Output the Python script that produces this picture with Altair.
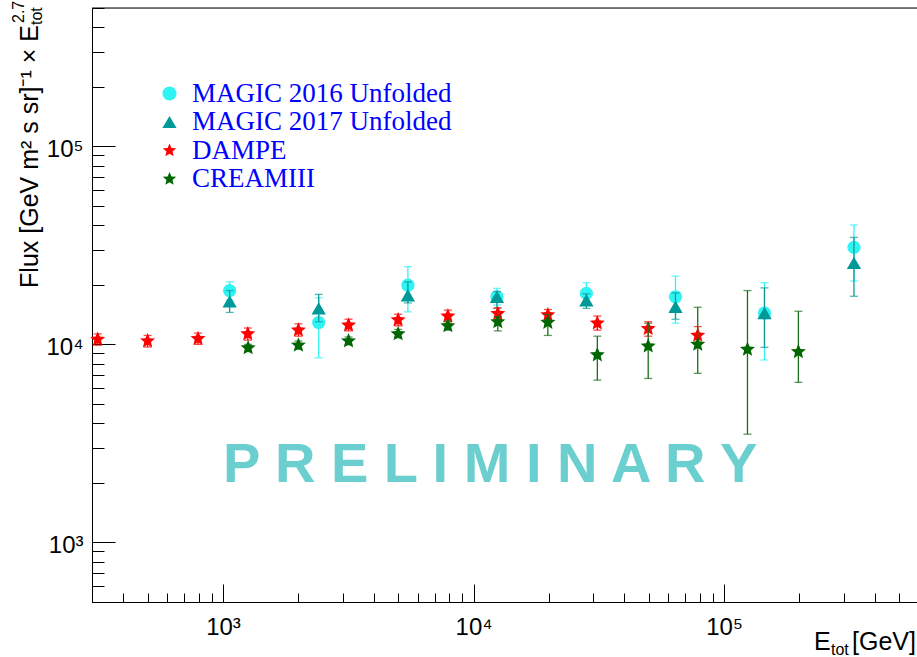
import altair as alt
import pandas as pd

# ---------------- data ----------------
NAMES = ["MAGIC 2016 Unfolded", "MAGIC 2017 Unfolded", "DAMPE", "CREAMIII"]

m16_e = [1063, 2410, 5470, 12400, 28200, 64000, 145000, 330000]
m16_f = [18700, 12900, 19900, 17400, 18100, 17400, 14400, 30900]
m16_hi = [20700, 17200, 24700, 19200, 20500, 22100, 20500, 40100]
m16_lo = [16700, 8550, 14600, 15800, 16000, 12800, 8340, 20900]

m17_e = [1063, 2410, 5470, 12400, 28200, 64000, 145000, 330000]
m17_f = [16500, 15200, 17700, 17400, 16700, 15500, 14400, 25800]
m17_hi = [18700, 17900, 20700, 18500, 18000, 18200, 19300, 34700]
m17_lo = [14500, 13000, 16200, 15200, 15200, 13400, 9660, 17500]

dampe_e = [316, 500, 795, 1256, 2000, 3170, 5000, 7900, 12500, 19800, 31200, 49800, 78500]
dampe_f = [10600, 10400, 10700, 11300, 11800, 12500, 13300, 13900, 14300, 14100, 12800, 12000, 11100]
dampe_hi = [11300, 11100, 11400, 12100, 12700, 13400, 14200, 14900, 15300, 15000, 13900, 13000, 12300]
dampe_lo = [9900, 9700, 10000, 10500, 11000, 11700, 12400, 13000, 13400, 13200, 11800, 11000, 10000]

cream_e = [1260, 2000, 3170, 5000, 7900, 12500, 19800, 31200, 49800, 78500, 124000, 198000]
cream_f = [9600, 9900, 10400, 11300, 12400, 13000, 12900, 8840, 9800, 10000, 9440, 9180]
cream_hi = [10000, 10400, 10900, 11900, 13100, 13800, 14200, 11000, 12800, 15400, 18700, 14700]
cream_lo = [9200, 9450, 9950, 10800, 11800, 11700, 11100, 6600, 6730, 7140, 3520, 6430]

X_TICKS = [300, 400, 500, 600, 700, 800, 900,
           1000, 2000, 3000, 4000, 5000, 6000, 7000, 8000, 9000,
           10000, 20000, 30000, 40000, 50000, 60000, 70000, 80000, 90000,
           100000, 200000, 300000, 400000, 500000]
Y_TICKS = [500, 600, 700, 800, 900,
           1000, 2000, 3000, 4000, 5000, 6000, 7000, 8000, 9000,
           10000, 20000, 30000, 40000, 50000, 60000, 70000, 80000, 90000,
           100000, 200000, 300000, 400000, 500000]

# ---------------- styling ----------------
MARK_COLORS = ["#30f4f4", "#009999", "#ff0000", "#006600"]
ERR_COLORS = ["#30f4f4", "#109a9a", "#ff0000", "#1a6e1a"]
STAR = ("M0,-1L0.265,-0.364L0.951,-0.309L0.428,0.139L0.588,0.809L0,0.45"
        "L-0.588,0.809L-0.428,0.139L-0.951,-0.309L-0.265,-0.364Z")
SHAPES = ["circle", "triangle-up", STAR, STAR]
SIZES = [175, 205, 250, 250]

W, H = 825, 594
FONT = "Liberation Sans"

MAJOR = "abs(log(datum.value)/LN10 - round(log(datum.value)/LN10)) < 0.001"
SUP = ("datum.value == 1000 ? '10\u00b3' : datum.value == 10000 ? '10\u2074' : "
       "datum.value == 100000 ? '10\u2075' : ''")

xscale = alt.Scale(type="log", domain=[300, 589000], nice=False)
yscale = alt.Scale(type="log", domain=[500, 500000], nice=False)

xaxis = alt.Axis(values=X_TICKS, labelExpr=SUP, title=None, grid=False,
                 tickSize={"expr": f"{MAJOR} ? -18 : -9"},
                 labelPadding=31, labelFont=FONT, labelFontSize=24,
                 labelColor="black", domainColor="black", tickColor="black",
                 domainWidth=1, tickWidth=1, labelFlush=False,
                 labelOverlap=False, labelBound=False)
yaxis = alt.Axis(values=Y_TICKS, labelExpr=SUP, title=None, grid=False,
                 tickSize={"expr": f"{MAJOR} ? -23 : -12"},
                 labelPadding=32, labelFont=FONT, labelFontSize=24,
                 labelColor="black", domainColor="black", tickColor="black",
                 domainWidth=1, tickWidth=1, labelFlush=False,
                 labelOverlap=False, labelBound=False, labelOffset=3)

color_scale = alt.Scale(domain=NAMES, range=MARK_COLORS)
shape_scale = alt.Scale(domain=NAMES, range=SHAPES)

legend = alt.Legend(title=None, orient="none", legendX=64, legendY=72,
                    labelFont="Liberation Serif", labelFontSize=27,
                    labelColor="#0000ff", symbolSize=200, symbolStrokeWidth=0,
                    labelOffset=9, rowPadding=0.5, labelLimit=400)

series = [
    (m16_e, m16_f, m16_lo, m16_hi),
    (m17_e, m17_f, m17_lo, m17_hi),
    (dampe_e, dampe_f, dampe_lo, dampe_hi),
    (cream_e, cream_f, cream_lo, cream_hi),
]

layers = []
for i, (e, f, lo, hi) in enumerate(series):
    df = pd.DataFrame({"E": e, "F": f, "lo": lo, "hi": hi, "series": NAMES[i]})
    base = alt.Chart(df)
    x = alt.X("E:Q", scale=xscale, axis=xaxis)
    rule = base.mark_rule(color=ERR_COLORS[i], strokeWidth=1.3).encode(
        x=x, y=alt.Y("lo:Q", scale=yscale, axis=yaxis), y2="hi:Q")
    cap_lo = base.mark_tick(color=ERR_COLORS[i], orient="horizontal",
                            size=8, thickness=1.3).encode(
        x=x, y=alt.Y("lo:Q", scale=yscale, axis=yaxis))
    cap_hi = base.mark_tick(color=ERR_COLORS[i], orient="horizontal",
                            size=8, thickness=1.3).encode(
        x=x, y=alt.Y("hi:Q", scale=yscale, axis=yaxis))
    pts = base.mark_point(filled=True, opacity=1, size=SIZES[i]).encode(
        x=x, y=alt.Y("F:Q", scale=yscale, axis=yaxis),
        color=alt.Color("series:N", scale=color_scale, legend=legend),
        shape=alt.Shape("series:N", scale=shape_scale, legend=legend))
    layers += [rule, cap_lo, cap_hi, pts]

# watermark
prelim_e = [11650]
prelim_f = [2010]
prelim = alt.Chart(pd.DataFrame({"E": prelim_e, "F": prelim_f})).mark_text(
    text="P R E L I M I N A R Y", font=FONT, fontWeight="bold", fontSize=56,
    color="#6ccfcf", align="center", baseline="alphabetic").encode(
    x=alt.X("E:Q", scale=xscale, axis=xaxis),
    y=alt.Y("F:Q", scale=yscale, axis=yaxis))

one = alt.Data(values=[{}])
frame_top = alt.Chart(one).mark_rule(color="black", strokeWidth=1).encode(
    x=alt.value(0), x2=alt.value(W), y=alt.value(0))

def txt(s, x, y, size, align="left", angle=0):
    return alt.Chart(one).mark_text(
        text=s, font=FONT, fontSize=size, color="black", align=align,
        baseline="alphabetic", angle=angle).encode(x=alt.value(x), y=alt.value(y))

titles = [
    # x title: E_tot [GeV]
    txt("E", 722, 642, 25),
    txt("tot", 739, 647, 16),
    txt("[GeV]", 824, 642, 25, align="right"),
    # y title: Flux [GeV m^2 s sr]^-1 x E_tot^2.7
    txt("Flux [GeV m\u00b2 s sr]\u207b\u00b9 \u00d7 E", -54, 17, 25, align="right", angle=270),
    txt("2.7", -68, 15, 16, align="left", angle=270),
    txt("tot", -50, 17, 16, align="left", angle=270),
]

chart = alt.layer(*layers, prelim, frame_top, *titles).properties(
    width=W, height=H,
    autosize=alt.AutoSizeParams(type="none"),
    padding={"left": 92, "top": 8, "right": 0, "bottom": 55},
).configure_view(stroke=None).configure(background="white")

chart.save("out.html", embed_options={"renderer": "svg", "actions": False})
